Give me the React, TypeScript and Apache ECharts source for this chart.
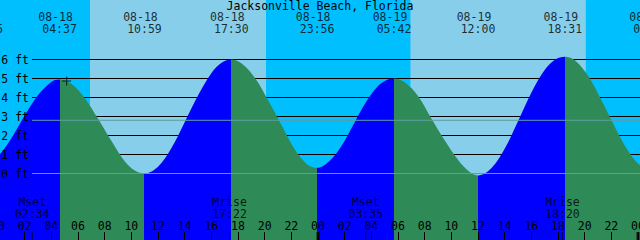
import React, { useEffect, useRef } from 'react';
import * as echarts from 'echarts';

const TITLE = 'Jacksonville Beach, Florida';

// Tide extremes (date, local time, height in ft)
const extremeDates = ['08-17', '08-18', '08-18', '08-18', '08-18', '08-19', '08-19', '08-19', '08-20'];
const extremeTimes = ['23:05', '04:37', '10:59', '17:30', '23:56', '05:42', '12:00', '18:31', '00:57'];
const extremeFeet = [0.6, 4.95, 0.0, 6.0, 0.3, 5.0, -0.1, 6.14, 0.22];

// Curve readings between extremes (hours since 08-18 00:00, ft)
const sampleHours = [
  0, 1, 2, 3, 4,
  5.5, 6.5, 7.5, 8.5, 9.5, 10.3,
  12, 13, 14, 15, 16, 16.8,
  18.3, 19.3, 20.3, 21.3, 22.3, 23.2,
  24.8, 25.7, 26.6, 27.5, 28.5, 29.2,
  30.5, 31.5, 32.5, 33.5, 34.5, 35.3,
  37, 38, 39, 40, 41, 41.8,
  43.3, 44.3, 45.3, 46.3, 47.3, 48.15,
];
const sampleFeet = [
  0.92, 1.85, 3.05, 4.12, 4.82,
  4.72, 3.98, 2.88, 1.72, 0.65, 0.14,
  0.36, 1.33, 2.7, 4.1, 5.28, 5.84,
  5.78, 5.0, 3.8, 2.5, 1.22, 0.48,
  0.62, 1.38, 2.5, 3.65, 4.6, 4.93,
  4.8, 4.08, 2.9, 1.75, 0.72, 0.12,
  0.28, 1.3, 2.75, 4.25, 5.45, 6.0,
  5.93, 5.09, 3.8, 2.4, 1.15, 0.44,
];

const sunriseStamps = [['08-18', '06:54'], ['08-19', '06:56']];
const sunsetStamps = [['08-18', '20:06'], ['08-19', '20:05']];

const moonNames = ['Mset', 'Mrise', 'Mset', 'Mrise'];
const moonDates = ['08-18', '08-18', '08-19', '08-19'];
const moonTimes = ['02:34', '17:22', '03:35', '18:20'];

const midnightDates = ['08-19', '08-20'];

const levelMin = 0;
const levelMax = 6;
const datumFeet = 0;
const meanLevelFeet = 2.8;

const markerStamp = ['08-18', '05:09'];
const markerFeet = 4.87;

const hourMin = 0;
const hourMax = 48.15;

function toHours(date: string, time: string) {
  const day = parseInt(date.slice(3), 10);
  const [hh, mm] = time.split(':').map(Number);
  return (day - 18) * 24 + hh + mm / 60;
}

export default function App() {
  const ref = useRef<HTMLDivElement>(null);

  useEffect(() => {
    document.body.style.margin = '0';
    const chart = echarts.init(ref.current!, null, { renderer: 'svg' });

    const TEXT = { color: '#000', fontFamily: 'DejaVu Sans Mono', fontSize: 11.5 };
    const RISE = '#0000ff';
    const FALL = '#2e8b57';
    const PX_FT = 19;
    const ZERO_Y = 173.5;
    const H = 240;
    const ftAt = (px: number) => (ZERO_Y - px) / PX_FT;

    const exH = extremeDates.map((d, i) => toHours(d, extremeTimes[i]));
    const pts = [
      ...exH.map((h, i) => [h, extremeFeet[i]]),
      ...sampleHours.map((h, i) => [h, sampleFeet[i]]),
    ].sort((a, b) => a[0] - b[0]);

    const n = exH.length;
    const pieces: any[] = [];
    pieces.push({ lt: exH[0], color: extremeFeet[0] < extremeFeet[1] ? FALL : RISE });
    for (let i = 0; i < n - 1; i++) {
      pieces.push({ gte: exH[i], lt: exH[i + 1], color: extremeFeet[i + 1] > extremeFeet[i] ? RISE : FALL });
    }
    pieces.push({ gte: exH[n - 1], color: extremeFeet[n - 1] < extremeFeet[n - 2] ? RISE : FALL });

    const bands = sunriseStamps.map((s, i) => [
      { xAxis: toHours(s[0], s[1]) },
      { xAxis: toHours(sunsetStamps[i][0], sunsetStamps[i][1]) },
    ]);

    const moonH = moonDates.map((d, i) => toHours(d, moonTimes[i]));
    const midH = midnightDates.map((d) => toHours(d, '00:00'));

    const hourFmt = (v: number) => {
      if (Math.abs(v - Math.round(v)) > 1e-6) return '';
      return String(Math.round(v) % 24).padStart(2, '0');
    };

    const labelSeries = (data: number[][], label: any) => ({
      type: 'scatter',
      xAxisIndex: 0,
      yAxisIndex: 0,
      clip: false,
      z: 4,
      silent: true,
      symbolSize: 1,
      itemStyle: { color: 'rgba(0,0,0,0)' },
      data,
      label: { show: true, position: 'inside', ...TEXT, ...label },
    });

    const option: any = {
      animation: false,
      backgroundColor: '#00bfff',
      title: {
        text: TITLE,
        left: 'center',
        top: 0,
        padding: 0,
        textStyle: { ...TEXT, fontWeight: 'normal' },
      },
      visualMap: {
        type: 'piecewise',
        show: false,
        dimension: 0,
        seriesIndex: 0,
        pieces,
      },
      grid: [
        { left: -2, right: 0, top: 0, bottom: 0, containLabel: false, outerBoundsMode: 'none' },
        {
          left: 32,
          right: 0,
          top: ZERO_Y - levelMax * PX_FT,
          bottom: H - ZERO_Y,
          containLabel: false,
          outerBoundsMode: 'none',
        },
      ],
      xAxis: [
        {
          gridIndex: 0,
          type: 'value',
          min: hourMin,
          max: hourMax,
          interval: 2,
          z: 4,
          position: 'bottom',
          axisLine: { show: false, onZero: false },
          axisTick: { show: true, inside: true, length: 8, lineStyle: { color: '#000', width: 1 } },
          axisLabel: { inside: true, margin: 8, ...TEXT, formatter: hourFmt, showMinLabel: true, showMaxLabel: true },
          splitLine: { show: false },
        },
        { gridIndex: 1, type: 'value', min: 0, max: 1, show: false, axisLine: { onZero: false } },
      ],
      yAxis: [
        { gridIndex: 0, type: 'value', min: -(H - ZERO_Y) / PX_FT, max: ZERO_Y / PX_FT, show: false, axisLine: { onZero: false } },
        {
          gridIndex: 1,
          type: 'value',
          min: levelMin,
          max: levelMax,
          interval: 1,
          z: 1.5,
          position: 'left',
          axisLine: { show: false, onZero: false },
          axisTick: { show: false },
          axisLabel: { show: false },
          splitLine: { show: true, lineStyle: { color: '#000', width: 1 } },
        },
        {
          gridIndex: 1,
          type: 'value',
          min: levelMin,
          max: levelMax,
          interval: 1,
          z: 4,
          position: 'left',
          axisLine: { show: false, onZero: false },
          axisTick: { show: false },
          splitLine: { show: false },
          axisLabel: { margin: 3, formatter: '{value} ft', ...TEXT },
        },
      ],
      series: [
        {
          type: 'line',
          xAxisIndex: 0,
          yAxisIndex: 0,
          data: pts,
          smooth: 0.35,
          symbol: 'none',
          z: 2,
          lineStyle: { width: 0 },
          areaStyle: { opacity: 1, origin: 'start' },
          silent: true,
        },
        {
          type: 'line',
          xAxisIndex: 0,
          yAxisIndex: 0,
          data: [],
          z: 0,
          markArea: { silent: true, itemStyle: { color: '#87ceeb' }, data: bands },
        },
        {
          type: 'line',
          xAxisIndex: 1,
          yAxisIndex: 1,
          data: [[0, datumFeet], [1, datumFeet]],
          symbol: 'none',
          clip: false,
          z: 5,
          lineStyle: { color: '#5f9ea0', width: 1 },
          silent: true,
        },
        {
          type: 'line',
          xAxisIndex: 1,
          yAxisIndex: 1,
          data: [[0, meanLevelFeet], [1, meanLevelFeet]],
          symbol: 'none',
          clip: false,
          z: 5,
          lineStyle: { color: '#5f9ea0', width: 1 },
          silent: true,
        },
        labelSeries(exH.map((h) => [h, ftAt(17.3)]), {
          offset: [-4, 0],
          formatter: (p: any) => extremeDates[p.dataIndex],
        }),
        labelSeries(exH.map((h) => [h, ftAt(29.3)]), {
          formatter: (p: any) => extremeTimes[p.dataIndex],
        }),
        labelSeries(moonH.map((h) => [h, ftAt(202.2)]), {
          formatter: (p: any) => moonNames[p.dataIndex],
        }),
        labelSeries(moonH.map((h) => [h, ftAt(213.5)]), {
          formatter: (p: any) => moonTimes[p.dataIndex],
        }),
        {
          type: 'scatter',
          xAxisIndex: 0,
          yAxisIndex: 0,
          clip: false,
          z: 4,
          silent: true,
          symbol: 'rect',
          symbolSize: [1, 8],
          itemStyle: { color: '#000' },
          data: moonH.map((h) => [h, ftAt(236)]),
        },
        {
          type: 'scatter',
          xAxisIndex: 0,
          yAxisIndex: 0,
          clip: false,
          z: 4,
          silent: true,
          symbol: 'rect',
          symbolSize: [3, 8],
          itemStyle: { color: '#000' },
          data: midH.map((h) => [h, ftAt(236)]),
        },
        {
          type: 'scatter',
          xAxisIndex: 0,
          yAxisIndex: 0,
          clip: false,
          z: 4,
          silent: true,
          symbol: 'path://M4,0h1v4h4v1h-4v4h-1v-4h-4v-1h4z',
          symbolSize: 9,
          itemStyle: { color: '#000' },
          data: [[toHours(markerStamp[0], markerStamp[1]), markerFeet]],
        },
      ],
    };

    chart.setOption(option);
    return () => chart.dispose();
  }, []);

  return <div ref={ref} style={{ width: 640, height: 240 }} />;
}
